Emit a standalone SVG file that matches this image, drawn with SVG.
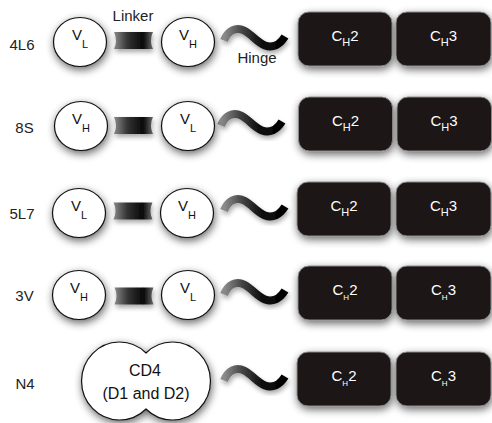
<svg xmlns="http://www.w3.org/2000/svg" xmlns:xlink="http://www.w3.org/1999/xlink" width="492" height="423" viewBox="0 0 492 423">
<style>
text{font-family:"Liberation Sans",Arial,sans-serif;fill:#222}
.lbl{font-size:15px;text-anchor:middle}
.v{font-size:15px;text-anchor:middle;fill:#111}
.sub{font-size:11px}
.ch{font-size:15px;text-anchor:middle;fill:#fff}
.ch tspan{fill:#fff}
.small{font-size:8px}
.dom{fill:#fff;stroke:#111;stroke-width:1.2;filter:url(#sh)}
.box{fill:#1b1718;stroke:#8a8a8a;stroke-width:1;filter:url(#sh)}
.lnk{fill:url(#lg);filter:url(#sh2)}
.hng{fill:none;stroke:url(#hg);stroke-width:8;stroke-linecap:butt;filter:url(#sh2)}
</style>
<defs>
<filter id="sh" x="-30%" y="-30%" width="160%" height="170%">
<feGaussianBlur in="SourceAlpha" stdDeviation="4"/>
<feOffset dx="1" dy="3" result="b"/>
<feComponentTransfer><feFuncA type="linear" slope="0.6"/></feComponentTransfer>
<feMerge><feMergeNode/><feMergeNode in="SourceGraphic"/></feMerge>
</filter>
<filter id="sh2" x="-30%" y="-50%" width="160%" height="200%">
<feGaussianBlur in="SourceAlpha" stdDeviation="2.5"/>
<feOffset dx="1" dy="3"/>
<feComponentTransfer><feFuncA type="linear" slope="0.35"/></feComponentTransfer>
<feMerge><feMergeNode/><feMergeNode in="SourceGraphic"/></feMerge>
</filter>
<linearGradient id="lg" x1="0" y1="0" x2="1" y2="0">
<stop offset="0" stop-color="#8a8a8a"/>
<stop offset="0.35" stop-color="#333"/>
<stop offset="0.75" stop-color="#080808"/>
<stop offset="1" stop-color="#6a6a6a"/>
</linearGradient>
<linearGradient id="hg" x1="0" y1="0" x2="1" y2="0">
<stop offset="0" stop-color="#8c8c8c"/>
<stop offset="0.3" stop-color="#444"/>
<stop offset="0.6" stop-color="#111"/>
<stop offset="1" stop-color="#000"/>
</linearGradient>
<path id="hinge" class="hng" d="M3,3 C7,-7 15,-11 23,-7 C31,-3 36,5 44,8 C52,11 59,7 64,-1"/>
<path id="linker" class="lnk" d="M0,-8.5 Q4,0 0,8.5 L39,8.5 Q35,0 39,-8.5 Z"/>
</defs>

<g id="labels">
<text class="lbl" x="22" y="50">4L6</text>
<text class="lbl" x="24.5" y="133">8S</text>
<text class="lbl" x="22" y="219">5L7</text>
<text class="lbl" x="24.5" y="301">3V</text>
<text class="lbl" x="25" y="389">N4</text>
<text class="lbl" x="133" y="21">Linker</text>
<text class="lbl" x="257" y="63">Hinge</text>
</g>

<g id="connectors">
<use id="linker-4L6" xlink:href="#linker" transform="translate(114,40.5)"/>
<use id="linker-8S" xlink:href="#linker" transform="translate(114,125.5)"/>
<use id="linker-5L7" xlink:href="#linker" transform="translate(113.5,211)"/>
<use id="linker-3V" xlink:href="#linker" transform="translate(114.5,296)"/>
<use id="hinge-4L6" xlink:href="#hinge" transform="translate(221,37.5)"/>
<use id="hinge-8S" xlink:href="#hinge" transform="translate(218,122.5)"/>
<use id="hinge-5L7" xlink:href="#hinge" transform="translate(221,207.5)"/>
<use id="hinge-3V" xlink:href="#hinge" transform="translate(221,291.5)"/>
<use id="hinge-N4" xlink:href="#hinge" transform="translate(221,377.5)"/>
</g>

<!-- Row 4L6 -->
<g id="row1-vl"><ellipse class="dom" cx="80" cy="42" rx="26.5" ry="24.5"/><text class="v" x="80" y="40">V<tspan class="sub" dy="8">L</tspan></text></g>
<g id="row1-vh"><ellipse class="dom" cx="188" cy="42" rx="26.5" ry="24.5"/><text class="v" x="188" y="40">V<tspan class="sub" dy="8">H</tspan></text></g>
<g id="row1-ch2"><rect class="box" x="298" y="12" width="94" height="54" rx="11"/><text class="ch" x="345" y="41">C<tspan class="sub" dy="5">H</tspan><tspan dy="-5">2</tspan></text></g>
<g id="row1-ch3"><rect class="box" x="396" y="12" width="95" height="54" rx="11"/><text class="ch" x="443.5" y="41">C<tspan class="sub" dy="5">H</tspan><tspan dy="-5">3</tspan></text></g>

<!-- Row 8S -->
<g id="row2-vh"><ellipse class="dom" cx="81" cy="126" rx="26.5" ry="24.5"/><text class="v" x="81" y="124">V<tspan class="sub" dy="8">H</tspan></text></g>
<g id="row2-vl"><ellipse class="dom" cx="188" cy="126" rx="26.5" ry="24.5"/><text class="v" x="188" y="124">V<tspan class="sub" dy="8">L</tspan></text></g>
<g id="row2-ch2"><rect class="box" x="298.5" y="97" width="94" height="54" rx="11"/><text class="ch" x="345.5" y="126">C<tspan class="sub" dy="5">H</tspan><tspan dy="-5">2</tspan></text></g>
<g id="row2-ch3"><rect class="box" x="397" y="97" width="94.5" height="54" rx="11"/><text class="ch" x="444" y="126">C<tspan class="sub" dy="5">H</tspan><tspan dy="-5">3</tspan></text></g>

<!-- Row 5L7 -->
<g id="row3-vl"><ellipse class="dom" cx="79" cy="213" rx="26.5" ry="24.5"/><text class="v" x="79" y="211">V<tspan class="sub" dy="8">L</tspan></text></g>
<g id="row3-vh"><ellipse class="dom" cx="187" cy="213" rx="26.5" ry="24.5"/><text class="v" x="187" y="211">V<tspan class="sub" dy="8">H</tspan></text></g>
<g id="row3-ch2"><rect class="box" x="297" y="182" width="94" height="54" rx="11"/><text class="ch" x="344" y="211">C<tspan class="sub" dy="5">H</tspan><tspan dy="-5">2</tspan></text></g>
<g id="row3-ch3"><rect class="box" x="396" y="182" width="95" height="54" rx="11"/><text class="ch" x="443.5" y="211">C<tspan class="sub" dy="5">H</tspan><tspan dy="-5">3</tspan></text></g>

<!-- Row 3V -->
<g id="row4-vh"><ellipse class="dom" cx="79" cy="295" rx="26.5" ry="24.5"/><text class="v" x="79" y="293">V<tspan class="sub" dy="8">H</tspan></text></g>
<g id="row4-vl"><ellipse class="dom" cx="188" cy="295" rx="26.5" ry="24.5"/><text class="v" x="188" y="293">V<tspan class="sub" dy="8">L</tspan></text></g>
<g id="row4-ch2"><rect class="box" x="298" y="266" width="94" height="54" rx="11"/><text class="ch" x="345" y="295">C<tspan class="small" dy="5">H</tspan><tspan dy="-5">2</tspan></text></g>
<g id="row4-ch3"><rect class="box" x="396" y="266" width="95" height="54" rx="11"/><text class="ch" x="443.5" y="295">C<tspan class="small" dy="5">H</tspan><tspan dy="-5">3</tspan></text></g>

<!-- Row N4 -->
<g id="row5-cd4"><path class="dom" d="M146,353 A38,39 0 1,0 146,409 A38,39 0 1,0 146,353 Z"/><text class="v" x="145" y="376" style="font-size:16px">CD4</text><text class="v" x="146" y="399" style="font-size:16px">(D1 and D2)</text></g>
<g id="row5-ch2"><rect class="box" x="297" y="352" width="94" height="54" rx="11"/><text class="ch" x="344" y="381">C<tspan class="small" dy="5">H</tspan><tspan dy="-5">2</tspan></text></g>
<g id="row5-ch3"><rect class="box" x="396" y="352" width="95" height="54" rx="11"/><text class="ch" x="443.5" y="381">C<tspan class="small" dy="5">H</tspan><tspan dy="-5">3</tspan></text></g>
</svg>
